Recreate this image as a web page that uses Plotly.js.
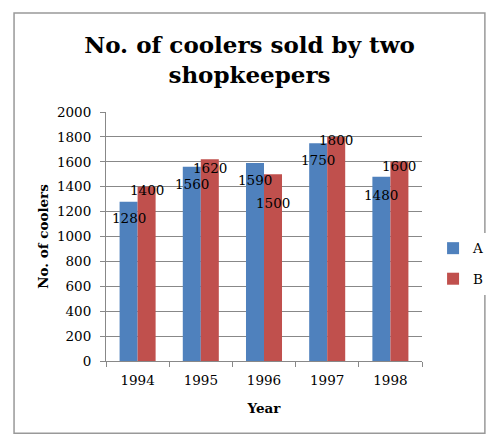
<!DOCTYPE html>
<html><head><meta charset="utf-8">
<script src="https://cdn.plot.ly/plotly-3.0.1.min.js"></script>
<style>html,body{margin:0;padding:0;background:#fff;}#chart{width:499px;height:444px;}</style>
</head><body><div id="chart"></div>
<script>
const years = ['1994','1995','1996','1997','1998'];
const seriesA = [1280, 1560, 1590, 1750, 1480];
const seriesB = [1400, 1620, 1500, 1800, 1600];
const yTicks = [0,200,400,600,800,1000,1200,1400,1600,1800,2000];
// label vertical offsets (px, downward) as seen in reference
const shiftA = [16, 17, 17, 17, 18];
const shiftB = [3, 9, 29, 3, 4];

const serif = 'DejaVu Serif, Liberation Serif, serif';
const traces = [
  {type:'bar', name:'A', x:years, y:seriesA, marker:{color:'#4F81BD'}, hoverinfo:'none', legendgroup:'a'},
  {type:'bar', name:'B', x:years, y:seriesB, marker:{color:'#C0504D'}, hoverinfo:'none', legendgroup:'b'}
];
const ann = [];
years.forEach((yr,i)=>{
  ann.push({x:i, y:seriesA[i], text:String(seriesA[i]), showarrow:false, xref:'x', yref:'y',
    xshift:-9, yshift:-shiftA[i], font:{family:serif, size:13.5, color:'#000'}});
  ann.push({x:i, y:seriesB[i], text:String(seriesB[i]), showarrow:false, xref:'x', yref:'y',
    xshift:9, yshift:-shiftB[i], font:{family:serif, size:13.5, color:'#000'}});
});
const layout = {
  width:499, height:444,
  margin:{l:106, r:77, t:112, b:83, autoexpand:false},
  paper_bgcolor:'#fff', plot_bgcolor:'#fff',
  title:{text:'No. of coolers sold by two<br>shopkeepers', font:{family:serif, size:23, color:'#000', weight:'bold'},
    x:0.5, xanchor:'center', y:0.88, yanchor:'top'},
  barmode:'group', bargap:0.43, bargroupgap:0,
  showlegend:true,
  legend:{x:1.035, y:0.39, xanchor:'left', yanchor:'middle', font:{family:serif, size:13.5, color:'#000'}, tracegroupgap:10, itemwidth:30},
  xaxis:{type:'category', range:[-0.5,4.5], autorange:false, tickson:'boundaries', ticks:'outside', ticklen:5, tickcolor:'#888',
    showline:true, linecolor:'#888', linewidth:1, showgrid:false, tickangle:0, ticklabelstandoff:7,
    tickfont:{family:serif, size:13.5, color:'#000'},
    title:{text:'Year', font:{family:serif, size:13.5, color:'#000', weight:'bold'}, standoff:16}},
  yaxis:{range:[0,2000], autorange:false, tickvals:yTicks, ticks:'outside', ticklen:5, tickcolor:'#888',
    showline:true, linecolor:'#888', linewidth:1, showgrid:true, gridcolor:'#888', gridwidth:1, ticklabelstandoff:6,
    zeroline:false, tickfont:{family:serif, size:13.5, color:'#000'},
    title:{text:'No. of coolers', font:{family:serif, size:13.5, color:'#000', weight:'bold'}, standoff:5}},
  annotations:ann,
  shapes:[{type:'rect', xref:'paper', yref:'paper', x0:-0.291, x1:1.199, y0:-0.29, y1:1.3975,
    line:{color:'#999', width:1.5}, fillcolor:'rgba(0,0,0,0)', layer:'below'}]
};
Plotly.newPlot('chart', traces, layout, {displayModeBar:false, staticPlot:true});
</script></body></html>
